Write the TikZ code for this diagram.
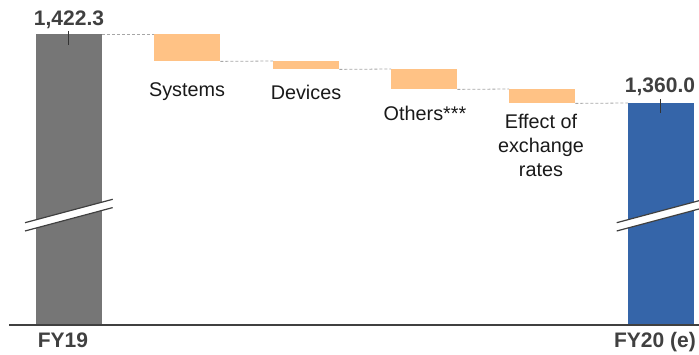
\documentclass[tikz,border=0pt]{standalone}
\usepackage{fontspec}
\setmainfont{Liberation Sans}
\definecolor{barGray}{HTML}{767676}
\definecolor{barBlue}{HTML}{3565A9}
\definecolor{deltaOrange}{HTML}{FFC285}
\definecolor{valText}{HTML}{404040}
\definecolor{lineDark}{HTML}{404040}
\begin{document}
\begin{tikzpicture}[x=1pt,y=-1pt,
  bar/.style={draw=none,anchor=north west,inner sep=0pt,minimum width=66pt},
  delta/.style={bar,fill=deltaOrange},
  link/.style={draw=gray!70,dashed,dash pattern=on 3pt off 2pt,line width=0.8pt},
  catlabel/.style={anchor=base,inner sep=0pt,font=\fontsize{19.8}{24}\selectfont,text=black!90,align=center},
  vallabel/.style={anchor=base,inner sep=0pt,font=\fontsize{21}{24}\selectfont\bfseries,text=valText},
  tick/.style={draw=black!80,line width=1pt},
  breakline/.style={draw=lineDark,line width=1.2pt}]
\useasboundingbox (0,0) rectangle (699,355);

% start and end bars
\node[bar,fill=barGray,minimum height=291pt] (fy19) at (36,34) {};
\node[bar,fill=barBlue,minimum height=222pt] (fy20) at (628,103) {};

% bridge steps
\node[delta,minimum height=27pt] (sys) at (154,34) {};
\node[delta,minimum height=8pt]  (dev) at (273,61) {};
\node[delta,minimum height=20pt] (oth) at (391,69) {};
\node[delta,minimum height=14pt] (fx)  at (509,89) {};

% dashed connectors between steps
\draw[link] (fy19.north east) -- (sys.north west);
\draw[link] (sys.south east) -- (dev.north west);
\draw[link] (dev.south east) -- (oth.north west);
\draw[link] (oth.south east) -- (fx.north west);
\draw[link] (fx.south east) -- (fy20.north west);

% axis
\coordinate (axL) at (9,325.5);
\coordinate (axR) at (699,325.5);
\draw[draw=lineDark,line width=2pt] (axL) -- (axR);

% axis breaks
\path[fill=white] (25,222.7) -- (112.7,199.3) -- (112.7,207.6) -- (25,231) -- cycle;
\draw[breakline] (25,222.7) -- (112.7,199.3);
\draw[breakline] (25,231) -- (112.7,207.6);
\path[fill=white] (616.7,222.7) -- (699,200.7) -- (699,209) -- (616.7,231) -- cycle;
\draw[breakline] (616.7,222.7) -- (699,200.7);
\draw[breakline] (616.7,231) -- (699,209);

% value ticks
\draw[tick] (68.8,31) -- (68.8,45.5);
\draw[tick] (660.5,99) -- (660.5,113);

% values
\node[vallabel] (v19) at (69,25.5) {1,422.3};
\node[vallabel] (v20) at (660,93) {1,360.0};

% category labels
\node[catlabel] (lsys) at (187,97) {Systems};
\node[catlabel] (ldev) at (306,100) {Devices};
\node[catlabel] (loth) at (425,120.5) {Others***};
\node[catlabel,anchor=north] (lfx) at (541,113.5) {Effect of\\exchange\\rates};

% period labels
\node[vallabel] (p19) at (63,348) {FY19};
\node[vallabel] (p20) at (655,348) {FY20 (e)};
\end{tikzpicture}
\end{document}
